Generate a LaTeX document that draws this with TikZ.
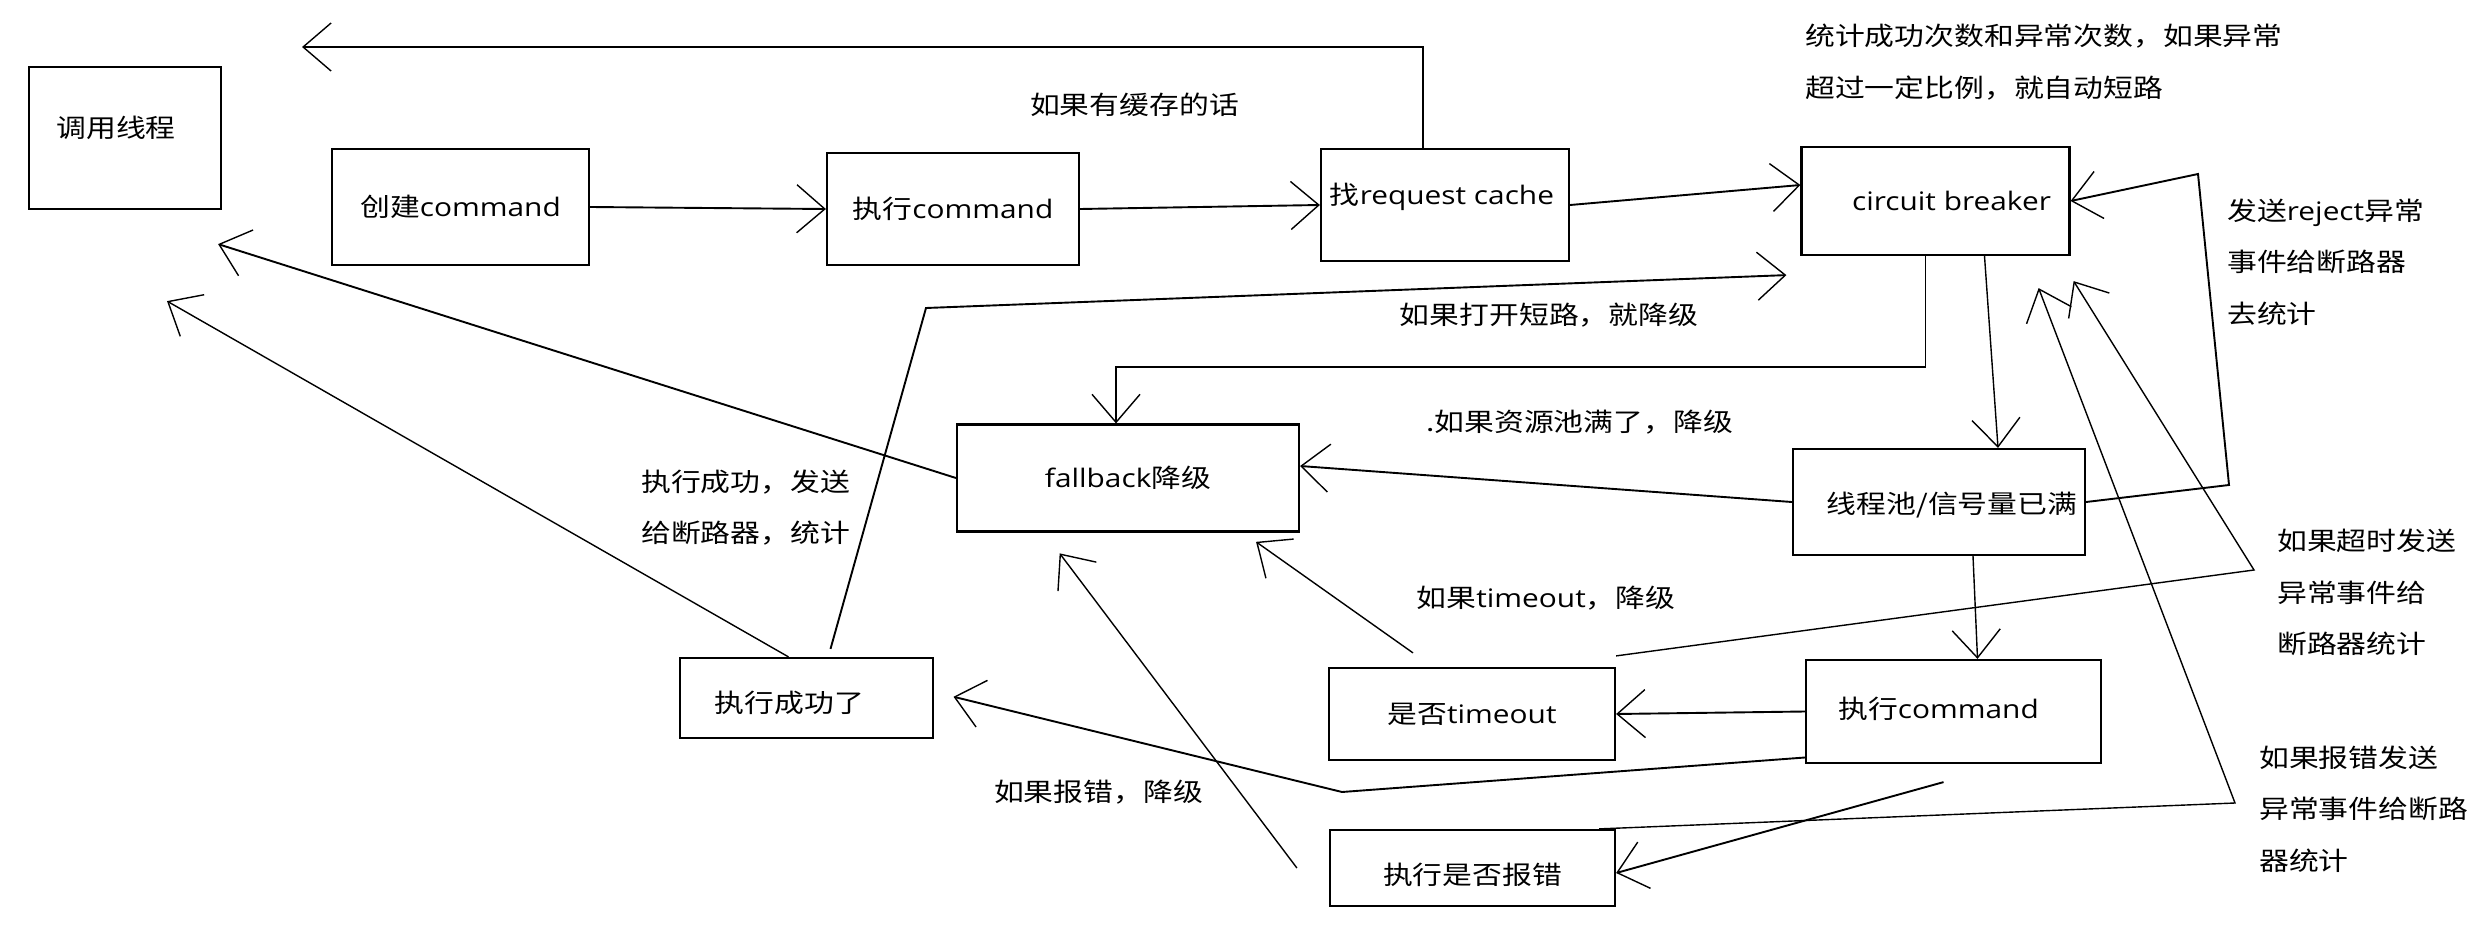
\documentclass[tikz,border=0pt]{standalone}
\usepackage{fontspec}
\setmainfont[FakeStretch=1.17]{Noto Sans CJK SC}
\newfontfamily\en[FakeStretch=1.17]{Open Sans}
\usetikzlibrary{
  arrows.meta,  % Tip "Straight Barb"
  calc,
}
\tikzset{
  >={Straight Barb[length=28pt,width=48pt,line width=1.4pt]},
  my box/.style={
    draw,
    rectangle,
    line width=2.2pt,
    inner sep=0pt
  },
  my note/.style={
    inner sep=0pt,
    align=left
  },
  heavy/.style={line width=1.9pt},
  light/.style={line width=1.4pt},
}

\begin{document}
\begin{tikzpicture}[x=1pt,y=-1pt,font=\fontsize{25.5}{51.5}\selectfont]
\useasboundingbox (0,0) rectangle (2484,936);
% boxes
\node[my box,minimum width=192pt,minimum height=142pt,
      label={[xshift=-9pt,yshift=10pt]center:调用线程}] (caller) at (125,138) {};
\node[my box,minimum width=257pt,minimum height=116pt] (create) at (460.5,207) {创建{\en command}};
\node[my box,minimum width=252pt,minimum height=112pt] (exec1) at (953,209) {执行{\en command}};
\node[my box,minimum width=248pt,minimum height=112pt,
      label={[xshift=-3pt,yshift=8pt]center:找{\en request cache}}] (cache) at (1445,205) {};
\node[my box,minimum width=268pt,minimum height=108pt,
      label={[xshift=16pt]center:{\en circuit breaker}}] (cb) at (1935.5,201) {};
\node[my box,minimum width=292pt,minimum height=106pt,
      label={[xshift=13pt,yshift=-3pt]center:线程池/信号量已满}] (pool) at (1939,502) {};
\node[my box,minimum width=295pt,minimum height=103pt,
      label={[xshift=-15pt,yshift=3pt]center:执行{\en command}}] (exec2) at (1953.5,711.5) {};
\node[my box,minimum width=286pt,minimum height=92pt] (timeout) at (1472,714) {是否{\en timeout}};
\node[my box,minimum width=285pt,minimum height=76pt,
      label={[yshift=-7pt]center:执行是否报错}] (err) at (1472.5,868) {};
\node[my box,minimum width=342pt,minimum height=107pt] (fb) at (1128,478) {{\en fallback}降级};
\node[my box,minimum width=253pt,minimum height=80pt,
      label={[xshift=-17pt,yshift=-5pt]center:执行成功了}] (succ) at (806.5,698) {};

% notes
\node[my note] (hitnote) at (1134.5,105) {如果有缓存的话};
\node[my note,anchor=west] (statnote) at (1805,62) {统计成功次数和异常次数，如果异常\\超过一定比例，就自动短路};
\node[my note] (opennote) at (1549,315) {如果打开短路，就降级};
\node[my note,anchor=west] (fullnote) at (1426,422) {.如果资源池满了，降级};
\node[my note,anchor=west] (rejectnote) at (2227,262) {发送{\en reject}异常\\事件给断路器\\去统计};
\node[my note,anchor=west] (oknote) at (641,507.5) {执行成功，发送\\给断路器，统计};
\node[my note] (tonote) at (1546,598) {如果{\en timeout}，降级};
\node[my note] (errnote) at (1098.5,792) {如果报错，降级};
\node[my note,anchor=west] (toreport) at (2277,592.5) {如果超时发送\\异常事件给\\断路器统计};
\node[my note,anchor=west] (errreport) at (2259,809) {如果报错发送\\异常事件给断路\\器统计};

% bends and free ends
\coordinate (hit) at (302,47);
\coordinate (rj1) at (2229,485);
\coordinate (rj2) at (2198,174);
\coordinate (lowbend) at (1342,792);
\coordinate (okbend) at (926,308);
\coordinate (to1) at (2254,570);
\coordinate (er1) at (2235,803);

% main flow
\draw[->,heavy] (create.east) -- (exec1.west);
\draw[->,heavy] (exec1.east) -- (cache.west);
\draw[->,heavy] (cache.east) -- ([yshift=16pt]cb.west);
\draw[->,heavy] ([xshift=-22pt]cache.north) |- (hit);
\draw[->,heavy] ([xshift=-10pt]cb.south) -- ++(0,111) -| ([xshift=-12pt]fb.north);
\draw[->,light] ([xshift=49pt]cb.south) -- ([xshift=59pt]pool.north);
\draw[->,heavy] (pool.west) -- ([yshift=12pt]fb.east);
\draw[->,heavy] (pool.east) -- (rj1) -- (rj2) -- (cb.east);
\draw[->,light] ([xshift=34pt]pool.south) -- ([xshift=24pt]exec2.north);
\draw[->,heavy] (exec2.west) -- (timeout.east);
\draw[->,heavy] ([shift={(-10pt,-18pt)}]exec2.south) -- ([yshift=-5pt]err.east);
\draw[->,heavy,shorten >=20pt] ([yshift=-46pt]exec2.west) -- (lowbend) -- ([yshift=6pt]succ.east);
% fallback
\draw[->,light,shorten >=16pt] ([xshift=-59pt,yshift=14pt]timeout.north) -- ([xshift=115pt]fb.south);
\draw[->,light,shorten >=26pt] ([xshift=-32pt]err.west) -- ([xshift=-84pt]fb.south);
\draw[->,heavy] (fb.west) -- ([shift={(-4pt,-34pt)}]caller.south east);
% statistics back to breaker
\draw[->,heavy] ([shift={(24pt,8pt)}]succ.north) -- (okbend) -- ([shift={(-14pt,-19pt)}]cb.south west);
\draw[->,light] ([xshift=-18pt]succ.north) -- ([shift={(42pt,-91pt)}]caller.south);
\draw[->,light] ([yshift=11pt]timeout.north east) -- (to1) -- ([shift={(3pt,-25pt)}]cb.south east);
\draw[->,light] ([xshift=-17pt]err.north east) -- (er1) -- ([shift={(-32pt,-32pt)}]cb.south east);
\end{tikzpicture}
\end{document}
